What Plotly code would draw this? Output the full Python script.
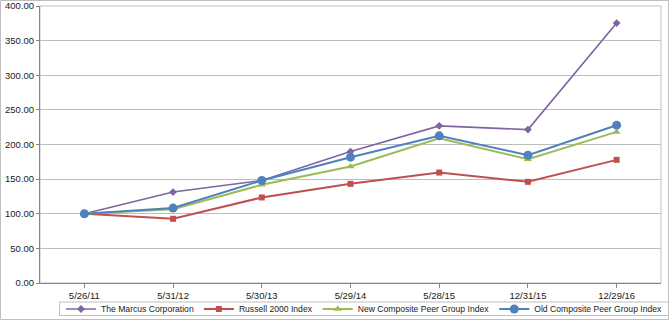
import plotly.graph_objects as go

# Cumulative total return data (base = 100)
dates = ["5/26/11", "5/31/12", "5/30/13", "5/29/14", "5/28/15", "12/31/15", "12/29/16"]
marcus = [100.00, 131.30, 148.00, 189.80, 226.90, 221.50, 375.40]
russell = [100.00, 92.70, 123.50, 143.20, 159.50, 146.10, 177.80]
new_peer = [100.00, 106.50, 141.80, 168.20, 209.00, 178.80, 218.20]
old_peer = [100.00, 108.20, 148.00, 181.70, 212.50, 184.60, 227.90]

W, H = 670, 322
ML, MR, MT, MB = 40, 9, 6, 39
PW, PH = W - ML - MR, H - MT - MB


def px_x(px):
    return (px - ML) / PW


def px_y(py):
    return (H - MB - py) / PH


series = [
    ("The Marcus Corporation", marcus, "#8064A2", "diamond", 6, 1.6),
    ("Russell 2000 Index", russell, "#C0504D", "square", 6, 2),
    ("New Composite Peer Group Index", new_peer, "#9BBB59", "triangle-up", 7, 2),
    ("Old Composite Peer Group Index", old_peer, "#4F81BD", "circle", 9, 2),
]

fig = go.Figure()
for name, vals, color, sym, size, lw in series:
    fig.add_trace(go.Scatter(
        x=dates, y=vals, name=name, mode="lines+markers",
        line=dict(color=color, width=lw),
        marker=dict(symbol=sym, size=size, color=color, line=dict(width=0)),
    ))

font = "Liberation Sans, Arial, sans-serif"

shapes = [
    # plot area frame
    dict(type="rect", xref="paper", yref="paper", x0=0, x1=1, y0=0, y1=1,
         line=dict(color="#bfbfbf", width=1), layer="below"),
    # legend box
    dict(type="rect", xref="paper", yref="paper",
         x0=px_x(59.5), x1=px_x(668.5), y0=px_y(315.5), y1=px_y(302),
         line=dict(color="#bfbfbf", width=1)),
    # outer chart border
    dict(type="rect", xref="paper", yref="paper",
         x0=px_x(0.5), x1=px_x(668.5), y0=px_y(319.5), y1=px_y(0.5),
         line=dict(color="#bfbfbf", width=1)),
]

fig.update_layout(
    width=W, height=H,
    margin=dict(l=ML, r=MR, t=MT, b=MB, pad=0, autoexpand=False),
    paper_bgcolor="white", plot_bgcolor="white",
    font=dict(family=font, size=9.5, color="#1a1a1a"),
    showlegend=True,
    legend=dict(
        orientation="h", xref="container", yref="container",
        x=61 / W, xanchor="left", y=1 - 309 / H, yanchor="middle",
        font=dict(family=font, size=8.6, color="#1a1a1a"),
        itemwidth=30, bgcolor="rgba(0,0,0,0)", borderwidth=0,
        traceorder="normal", tracegroupgap=0,
    ),
    shapes=shapes,
    xaxis=dict(
        type="category", showgrid=False, showline=True, linecolor="#868686", linewidth=1,
        ticks="outside", ticklen=4, tickcolor="#868686", tickfont=dict(size=9.5),
        range=[-0.5, 6.5], zeroline=False, fixedrange=True, automargin=False,
    ),
    yaxis=dict(
        range=[0, 400], dtick=50, tickformat=".2f", showgrid=True, gridcolor="#bdbdbd",
        gridwidth=1, showline=True, linecolor="#868686", linewidth=1,
        ticks="outside", ticklen=3, tickcolor="#868686", zeroline=False,
        tickfont=dict(size=9.5), fixedrange=True, automargin=False,
    ),
)

fig.write_html("out.html")
